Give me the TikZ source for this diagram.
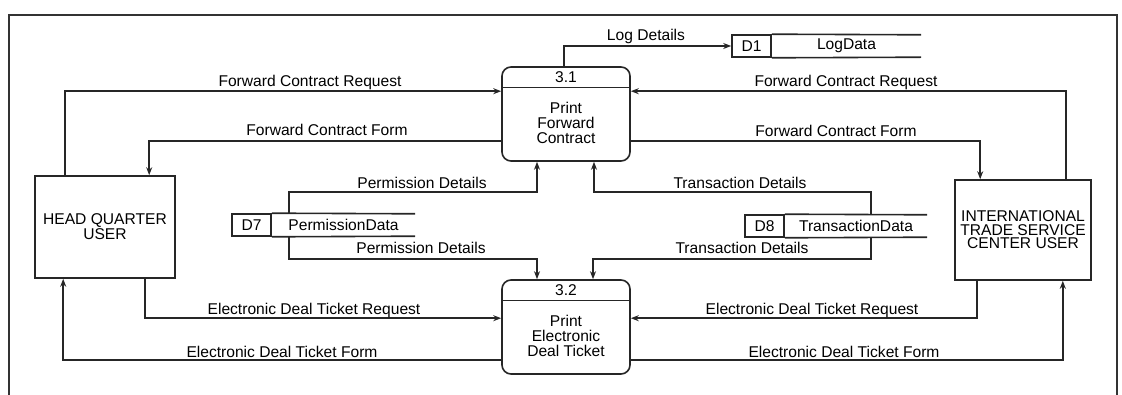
\documentclass[tikz,border=0pt]{standalone}
\usepackage{fontspec}
\setmainfont{Liberation Sans}
\usepackage{tikz}
\usetikzlibrary{arrows.meta, positioning, calc}
\tikzstyle{arrow} = [line width=1.6pt, draw=black!85, -{Stealth[length=8pt,width=6pt]}]
\tikzstyle{flow} = [line width=1.6pt, draw=black!85]
\tikzstyle{process} = [rectangle, rounded corners=9pt, minimum width=128pt, minimum height=94pt, draw=black!85, line width=1.6pt]
\tikzstyle{procid} = [minimum height=21pt, inner sep=0pt, font=\fontsize{15.6}{15}\selectfont]
\tikzstyle{proctxt} = [align=center, inner sep=0pt, font=\fontsize{15.6}{15}\selectfont]
\tikzstyle{entity} = [rectangle, draw=black!85, line width=1.6pt, align=center, font=\fontsize{15.6}{13.5}\selectfont]
\tikzstyle{storeid} = [rectangle, draw=black!85, line width=1.6pt, minimum width=39pt, minimum height=22pt, inner sep=0pt, font=\fontsize{15.6}{15}\selectfont]
\tikzstyle{storename} = [rectangle, minimum height=22pt, inner sep=0pt, font=\fontsize{15.6}{15}\selectfont]
\tikzstyle{flowlbl} = [anchor=base, inner sep=0pt, font=\fontsize{15.6}{15}\selectfont]

\begin{document}
\begin{tikzpicture}[x=1pt, y=-1pt]
    \useasboundingbox (0,0) rectangle (1122,395);
    % Frame
    \draw[line width=1.8pt, black!80] (9,395) -- (9,15) -- (1117,15) -- (1117,395);

    % Processes
    \node (p31) [process] at (566,114) {};
    \node (p31id) [procid, anchor=north] at (p31.north) {3.1};
    \draw[flow] (p31id.south -| p31.west) -- (p31id.south -| p31.east);
    \node (p31txt) [proctxt] at ($(p31)+(0,9)$) {Print\\Forward\\Contract};

    \node (p32) [process] at (566,327) {};
    \node (p32id) [procid, anchor=north] at (p32.north) {3.2};
    \draw[flow] (p32id.south -| p32.west) -- (p32id.south -| p32.east);
    \node (p32txt) [proctxt] at ($(p32)+(0,9)$) {Print\\Electronic\\Deal Ticket};

    % External entities
    \node (hq) [entity, minimum width=140pt, minimum height=102pt] at (105,227) {HEAD QUARTER\\USER};
    \node (itsc) [entity, minimum width=136pt, minimum height=100pt] at (1023,230) {INTERNATIONAL\\TRADE SERVICE\\CENTER USER};

    % Data stores
    \node (d1id) [storeid] at (751.5,46) {D1};
    \node (d1name) [storename, right=0pt of d1id, minimum width=149pt] {LogData};
    \draw[flow] (d1id.north east) -- (d1name.north east);
    \draw[flow] (d1id.south east) -- (d1name.south east);

    \node (d7id) [storeid] at (251.5,225) {D7};
    \node (d7name) [storename, right=0pt of d7id, minimum width=143pt] {PermissionData};
    \draw[flow] (d7id.north east) -- (d7name.north east);
    \draw[flow] (d7id.south east) -- (d7name.south east);

    \node (d8id) [storeid] at (764.5,226) {D8};
    \node (d8name) [storename, right=0pt of d8id, minimum width=142pt] {TransactionData};
    \draw[flow] (d8id.north east) -- (d8name.north east);
    \draw[flow] (d8id.south east) -- (d8name.south east);

    % Flows of 3.1
    \draw[arrow] ([xshift=-2pt]p31.north) |- (d1id.west);
    \draw[arrow] ([xshift=31pt]hq.north west) |- ([yshift=-25pt]p31.north west);
    \draw[arrow] ([yshift=-75pt]p31.north west) -| ([xshift=115pt]hq.north west);
    \draw[arrow] ([xshift=-26pt]itsc.north east) |- ([yshift=-25pt]p31.north east);
    \draw[arrow] ([yshift=-75pt]p31.north east) -| ([xshift=26pt]itsc.north west);
    \draw[arrow] ([xshift=17pt]d7id.north east) -- ++(0,-21) -| ([xshift=-29pt]p31.south);
    \draw[arrow] ([xshift=86pt]d8id.north east) -- ++(0,-22) -| ([xshift=28pt]p31.south);

    % Flows of 3.2
    \draw[arrow] ([xshift=17pt]d7id.south east) -- ++(0,22) -| ([xshift=-29pt]p32.north);
    \draw[arrow] ([xshift=86pt]d8id.south east) -- ++(0,21) -| ([xshift=27pt]p32.north);
    \draw[arrow] ([xshift=111pt]hq.south west) |- ([yshift=-39pt]p32.north west);
    \draw[arrow] ([yshift=-81pt]p32.north west) -| ([xshift=29pt]hq.south west);
    \draw[arrow] ([xshift=23pt]itsc.south west) |- ([yshift=-39pt]p32.north east);
    \draw[arrow] ([yshift=-81pt]p32.north east) -| ([xshift=-29pt]itsc.south east);

    % Flow labels
    \node (llog) [flowlbl] at (646,41) {Log Details};
    \node (lfcr1) [flowlbl] at (310,87) {Forward Contract Request};
    \node (lfcf1) [flowlbl] at (327,136) {Forward Contract Form};
    \node (lfcr2) [flowlbl] at (846,87) {Forward Contract Request};
    \node (lfcf2) [flowlbl] at (836,137) {Forward Contract Form};
    \node (lperm1) [flowlbl] at (422,189) {Permission Details};
    \node (ltran1) [flowlbl] at (740,189) {Transaction Details};
    \node (lperm2) [flowlbl] at (421,254) {Permission Details};
    \node (ltran2) [flowlbl] at (742,254) {Transaction Details};
    \node (ledtr1) [flowlbl] at (314,315) {Electronic Deal Ticket Request};
    \node (ledtf1) [flowlbl] at (282,357) {Electronic Deal Ticket Form};
    \node (ledtr2) [flowlbl] at (812,315) {Electronic Deal Ticket Request};
    \node (ledtf2) [flowlbl] at (844,357) {Electronic Deal Ticket Form};
\end{tikzpicture}
\end{document}
